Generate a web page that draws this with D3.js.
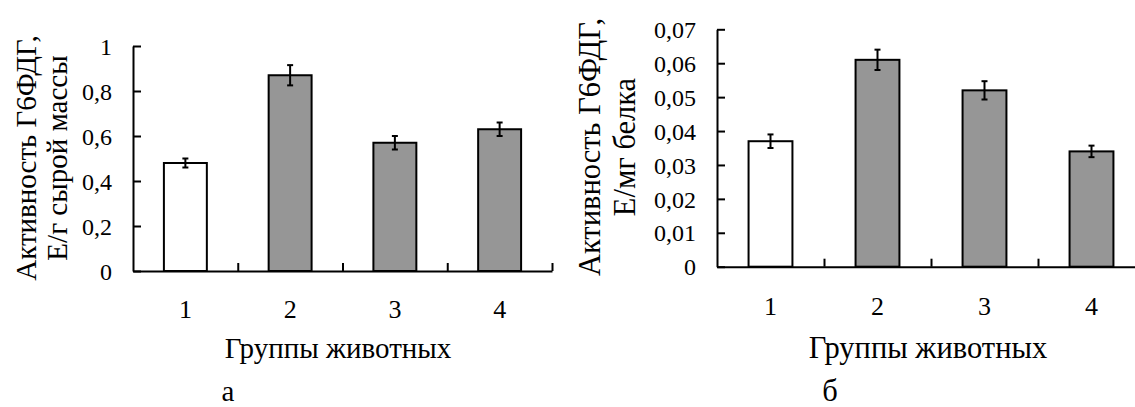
<!DOCTYPE html>
<html>
<head>
<meta charset="utf-8">
<script src="https://cdn.jsdelivr.net/npm/d3@7"></script>
<style>
    body { margin: 0; background: #fff; }
    svg { display: block; }
</style>
</head>
<body>
<svg id="chart" width="1135" height="407"></svg>
<script>
// data
const groups = ["1", "2", "3", "4"];
const fillColors = ["#ffffff", "#969696", "#969696", "#969696"];

const wetMass = [0.48, 0.87, 0.57, 0.63];
const wetMassErr = [0.02, 0.045, 0.03, 0.03];
const wetTicks = [0, 0.2, 0.4, 0.6, 0.8, 1];

const protein = [0.037, 0.061, 0.052, 0.034];
const proteinErr = [0.002, 0.003, 0.0027, 0.0017];
const proteinTicks = [0, 0.01, 0.02, 0.03, 0.04, 0.05, 0.06, 0.07];

const xTitle = "Группы животных";

const FONT = "'Liberation Serif', Tinos, 'Times New Roman', 'DejaVu Serif', serif";
const ru = d3.formatLocale({decimal: ",", thousands: " ", grouping: [3], currency: ["", ""]});

const svg = d3.select("#chart").attr("font-family", FONT);

function drawPanel(p) {
    const g = svg.append("g");

    const y = d3.scaleLinear().domain([0, p.max]).range([p.bottom, p.top]);
    const x = d3.scaleBand()
        .domain(groups)
        .range([p.left, p.right])
        .paddingInner(0.59)
        .paddingOuter(0.295);
    const xLin = d3.scaleLinear().domain([0, groups.length]).range([p.left, p.right]);

    // bars
    g.append("g").selectAll("rect")
        .data(p.values)
        .join("rect")
        .attr("x", (d, i) => x(groups[i]))
        .attr("y", d => y(d))
        .attr("width", x.bandwidth())
        .attr("height", d => y(0) - y(d))
        .attr("fill", (d, i) => fillColors[i])
        .attr("stroke", "#000")
        .attr("stroke-width", 2);

    // error bars
    const err = g.append("g").attr("stroke", "#000").attr("stroke-width", 2);
    p.values.forEach((v, i) => {
        const cx = x(groups[i]) + x.bandwidth() / 2;
        const e = p.errors[i];
        err.append("line").attr("x1", cx).attr("x2", cx).attr("y1", y(v - e)).attr("y2", y(v + e));
        err.append("line").attr("x1", cx - 3).attr("x2", cx + 3).attr("y1", y(v - e)).attr("y2", y(v - e));
        err.append("line").attr("x1", cx - 3).attr("x2", cx + 3).attr("y1", y(v + e)).attr("y2", y(v + e));
    });

    // y axis, ticks inside
    const yAxis = g.append("g")
        .attr("transform", `translate(${p.left},0)`)
        .call(d3.axisLeft(y).tickValues(p.ticks).tickFormat(ru.format(p.fmt))
            .tickSize(-8).tickSizeOuter(0).tickPadding(21));
    yAxis.selectAll("text").attr("font-size", p.tickFont + "px").attr("dy", "0.34em");

    // x axis: boundary ticks pointing up
    const xAxis = g.append("g")
        .attr("transform", `translate(0,${p.bottom})`)
        .call(d3.axisBottom(xLin).tickValues([1, 2, 3, 4]).tickFormat("")
            .tickSize(-8).tickSizeOuter(0));

    // group labels
    const xLab = g.append("g")
        .attr("transform", `translate(0,${p.bottom})`)
        .call(d3.axisBottom(x).tickSize(0).tickPadding(p.xLabPad));
    xLab.select(".domain").remove();
    xLab.selectAll("text").attr("font-size", p.tickFont + 2 + "px").attr("dy", 0);

    [yAxis, xAxis].forEach(a => {
        a.select(".domain").attr("stroke-width", 2);
        a.selectAll(".tick line").attr("stroke-width", 2);
    });
    g.selectAll(".domain, .tick line").attr("stroke", "#000");
    g.selectAll(".tick text").attr("fill", "#000");
    [yAxis, xAxis, xLab].forEach(a => a.attr("font-family", FONT));

    // y title, two lines
    p.yTitle.forEach((t, k) => {
        g.append("text")
            .attr("transform", `translate(${p.yTitleX[k]},${p.yTitleY}) rotate(-90)`)
            .attr("text-anchor", "middle")
            .attr("font-size", p.titleFont + "px")
            .text(t);
    });

    // x title
    g.append("text")
        .attr("x", p.xTitleX)
        .attr("y", p.xTitleY)
        .attr("text-anchor", "middle")
        .attr("font-size", p.titleFont + "px")
        .text(xTitle);

    // panel letter
    g.append("text")
        .attr("x", p.letterX)
        .attr("y", 401)
        .attr("text-anchor", "middle")
        .attr("font-size", p.titleFont + "px")
        .text(p.letter);
}

drawPanel({
    values: wetMass, errors: wetMassErr, ticks: wetTicks, max: 1, fmt: ".1~f",
    left: 133, right: 552, top: 46, bottom: 271,
    tickFont: 24, titleFont: 29, xLabPad: 47,
    yTitle: ["Активность Г6ФДГ,", "Е/г сырой массы"], yTitleX: [36, 67], yTitleY: 158,
    xTitleX: 338, xTitleY: 358, letter: "а", letterX: 228
});

drawPanel({
    values: protein, errors: proteinErr, ticks: proteinTicks, max: 0.07, fmt: ".2~f",
    left: 717, right: 1145, top: 29.3, bottom: 266.7,
    tickFont: 24, titleFont: 30.5, xLabPad: 48,
    yTitle: ["Активность Г6ФДГ,", "Е/мг белка"], yTitleX: [600, 635], yTitleY: 147,
    xTitleX: 928, xTitleY: 358, letter: "б", letterX: 830
});
</script>
</body>
</html>
